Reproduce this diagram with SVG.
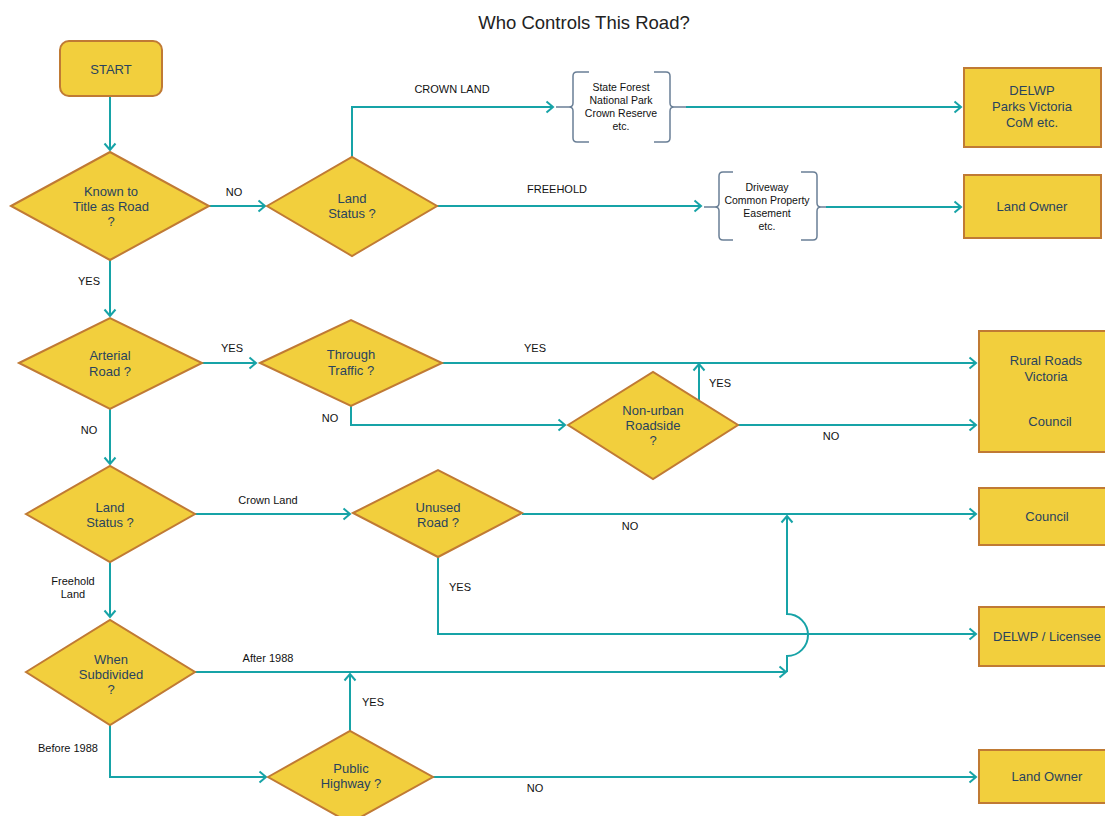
<svg xmlns="http://www.w3.org/2000/svg" width="1105" height="816" viewBox="0 0 1105 816">
<defs>
<marker id="arr" markerUnits="userSpaceOnUse" markerWidth="14" markerHeight="14" viewBox="-8 -7 10 14" refX="0" refY="0" orient="auto">
<path d="M-6.5,-5.5 L0,0 L-6.5,5.5" fill="none" stroke="#17A3A7" stroke-width="2"/>
</marker>
<style>
.n{fill:#F2CF3D;stroke:#C07A34;stroke-width:2}
.t{font-family:"Liberation Sans",Arial,sans-serif;font-size:13px;fill:#29435E;text-anchor:middle}
.c{fill:none;stroke:#17A3A7;stroke-width:2}
.l{font-family:"Liberation Sans",Arial,sans-serif;font-size:11px;fill:#111;text-anchor:middle}
.b{fill:none;stroke:#6A7F96;stroke-width:1.5}
.bt{font-family:"Liberation Sans",Arial,sans-serif;font-size:10.5px;fill:#111;text-anchor:middle}
</style>
</defs>
<rect width="1105" height="816" fill="#fff"/>
<text x="584" y="29" font-family="Liberation Sans,Arial,sans-serif" font-size="18.5" fill="#222" text-anchor="middle">Who Controls This Road?</text>

<g id="connectors">
<path class="c" d="M110,96 V150" marker-end="url(#arr)"/>
<path class="c" d="M209,206 H265" marker-end="url(#arr)"/>
<path class="c" d="M352,157 V107 H553" marker-end="url(#arr)"/>
<path class="c" d="M686,107 H961" marker-end="url(#arr)"/>
<path class="c" d="M437,206 H701" marker-end="url(#arr)"/>
<path class="c" d="M826,207 H961" marker-end="url(#arr)"/>
<path class="c" d="M110,260 V316" marker-end="url(#arr)"/>
<path class="c" d="M202,363 H256" marker-end="url(#arr)"/>
<path class="c" d="M442,363 H976" marker-end="url(#arr)"/>
<path class="c" d="M351,406 V425 H565" marker-end="url(#arr)"/>
<path class="c" d="M699,401 V364" marker-end="url(#arr)"/>
<path class="c" d="M738,425 H976" marker-end="url(#arr)"/>
<path class="c" d="M110,409 V464" marker-end="url(#arr)"/>
<path class="c" d="M195,514 H350" marker-end="url(#arr)"/>
<path class="c" d="M522,514 H976" marker-end="url(#arr)"/>
<path class="c" d="M438,557 V634 H976" marker-end="url(#arr)"/>
<path class="c" d="M110,562 V617" marker-end="url(#arr)"/>
<path class="c" d="M195,672 H786" marker-end="url(#arr)"/>
<path class="c" d="M787,672 V656 A21,21 0 0 0 787,614 V516" marker-end="url(#arr)"/>
<path class="c" d="M110,725 V777 H266" marker-end="url(#arr)"/>
<path class="c" d="M350,731 V674" marker-end="url(#arr)"/>
<path class="c" d="M433,777 H976" marker-end="url(#arr)"/>
<text class="l" x="234" y="196">NO</text>
<text class="l" x="452" y="93">CROWN LAND</text>
<text class="l" x="557" y="193">FREEHOLD</text>
<text class="l" x="89" y="285">YES</text>
<text class="l" x="232" y="352">YES</text>
<text class="l" x="535" y="352">YES</text>
<text class="l" x="330" y="422">NO</text>
<text class="l" x="720" y="387">YES</text>
<text class="l" x="831" y="440">NO</text>
<text class="l" x="89" y="434">NO</text>
<text class="l" x="268" y="504">Crown Land</text>
<text class="l" x="630" y="530">NO</text>
<text class="l" x="460" y="591">YES</text>
<text class="l" x="73" y="585">Freehold</text>
<text class="l" x="73" y="598">Land</text>
<text class="l" x="268" y="662">After 1988</text>
<text class="l" x="68" y="752">Before 1988</text>
<text class="l" x="373" y="706">YES</text>
<text class="l" x="535" y="792">NO</text>
</g>

<g id="start">
<rect class="n" x="60" y="41" width="102" height="55" rx="9"/>
<text class="t" x="111" y="74" font-size="14">START</text>
</g>
<g id="known">
<polygon class="n" points="11,206 110,152 209,206 110,260"/>
<text class="t" x="111" y="196">Known to</text>
<text class="t" x="111" y="211">Title as Road</text>
<text class="t" x="111" y="226">?</text>
</g>
<g id="landstatus1">
<polygon class="n" points="267,206 352,157 437,206 352,256"/>
<text class="t" x="352" y="203">Land</text>
<text class="t" x="352" y="218">Status ?</text>
</g>
<g id="crownbrace">
<path class="b" d="M589,72 H577 Q573,72 573,76 V103 Q573,107 569,107 H556 H569 Q573,107 573,111 V138 Q573,142 577,142 H589"/>
<path class="b" d="M654,72 H666 Q670,72 670,76 V103 Q670,107 674,107 H686 H674 Q670,107 670,111 V138 Q670,142 666,142 H654"/>
<text class="bt" x="621" y="91">State Forest</text>
<text class="bt" x="621" y="104">National Park</text>
<text class="bt" x="621" y="117">Crown Reserve</text>
<text class="bt" x="621" y="130">etc.</text>
</g>
<g id="freeholdbrace">
<path class="b" d="M733,172 H723 Q719,172 719,176 V203 Q719,207 715,207 H704 H715 Q719,207 719,211 V236 Q719,240 723,240 H733"/>
<path class="b" d="M801,172 H813 Q817,172 817,176 V203 Q817,207 821,207 H826 H821 Q817,207 817,211 V236 Q817,240 813,240 H801"/>
<text class="bt" x="767" y="191">Driveway</text>
<text class="bt" x="767" y="204">Common Property</text>
<text class="bt" x="767" y="217">Easement</text>
<text class="bt" x="767" y="230">etc.</text>
</g>
<g id="delwp">
<rect class="n" x="964" y="68" width="137" height="79"/>
<text class="t" x="1032" y="95">DELWP</text>
<text class="t" x="1032" y="111">Parks Victoria</text>
<text class="t" x="1032" y="127">CoM etc.</text>
</g>
<g id="landowner1">
<rect class="n" x="964" y="175" width="137" height="63"/>
<text class="t" x="1032" y="211">Land Owner</text>
</g>
<g id="arterial">
<polygon class="n" points="19,363 110,318 202,363 110,409"/>
<text class="t" x="110" y="360">Arterial</text>
<text class="t" x="110" y="376">Road ?</text>
</g>
<g id="through">
<polygon class="n" points="260,363 351,320 442,363 351,406"/>
<text class="t" x="351" y="359">Through</text>
<text class="t" x="351" y="375">Traffic ?</text>
</g>
<g id="nonurban">
<polygon class="n" points="568,425 653,372 738,425 653,479"/>
<text class="t" x="653" y="415">Non-urban</text>
<text class="t" x="653" y="430">Roadside</text>
<text class="t" x="653" y="445">?</text>
</g>
<g id="rrv">
<rect class="n" x="979" y="331" width="140" height="121"/>
<text class="t" x="1046" y="365">Rural Roads</text>
<text class="t" x="1046" y="381">Victoria</text>
<text class="t" x="1050" y="426">Council</text>
</g>
<g id="landstatus2">
<polygon class="n" points="26,514 110,466 195,514 110,562"/>
<text class="t" x="110" y="512">Land</text>
<text class="t" x="110" y="527">Status ?</text>
</g>
<g id="unused">
<polygon class="n" points="353,513 438,470 522,513 438,557"/>
<text class="t" x="438" y="512">Unused</text>
<text class="t" x="438" y="527">Road ?</text>
</g>
<g id="council">
<rect class="n" x="979" y="488" width="140" height="57"/>
<text class="t" x="1047" y="521">Council</text>
</g>
<g id="licensee">
<rect class="n" x="979" y="607" width="140" height="59"/>
<text class="t" x="1047" y="641">DELWP / Licensee</text>
</g>
<g id="subdivided">
<polygon class="n" points="26,672 110,620 195,672 110,725"/>
<text class="t" x="111" y="664">When</text>
<text class="t" x="111" y="679">Subdivided</text>
<text class="t" x="111" y="694">?</text>
</g>
<g id="publichighway">
<polygon class="n" points="268,777 350,731 433,777 350,823"/>
<text class="t" x="351" y="773">Public</text>
<text class="t" x="351" y="788">Highway ?</text>
</g>
<g id="landowner2">
<rect class="n" x="979" y="750" width="140" height="53"/>
<text class="t" x="1047" y="781">Land Owner</text>
</g>
</svg>
